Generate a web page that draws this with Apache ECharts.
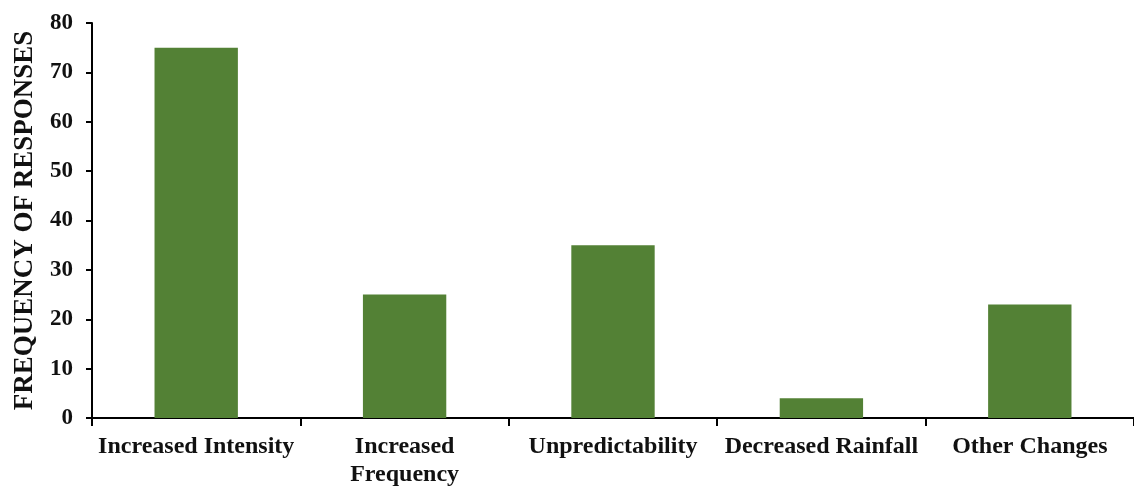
<!DOCTYPE html>
<html>
<head>
<meta charset="utf-8">
<script src="https://cdn.jsdelivr.net/npm/echarts@6/dist/echarts.min.js"></script>
<style>
  html, body { margin: 0; padding: 0; background: #fff; }
  #main { width: 1134px; height: 489px; }
</style>
</head>
<body>
<div id="main"></div>
<script>
// categories and values
var categories = ['Increased Intensity', 'Increased\nFrequency', 'Unpredictability', 'Decreased Rainfall', 'Other Changes'];
var responses = [75, 25, 35, 4, 23];

var yTitle = 'FREQUENCY OF RESPONSES';
var fontFam = '"Liberation Serif", "Times New Roman", serif';

var myChart = echarts.init(document.getElementById('main'));

myChart.setOption({
    animation: false,
    grid: { left: 92, right: 0, top: 23, bottom: 68 },
    xAxis: {
        type: 'category',
        data: categories,
        axisLine: { lineStyle: { color: '#000', width: 2 } },
        axisTick: { show: true, length: 8, lineStyle: { color: '#000', width: 2 } },
        axisLabel: {
            color: '#111', fontFamily: fontFam, fontWeight: 'bold', fontSize: 24,
            margin: 15, lineHeight: 28, interval: 0
        }
    },
    yAxis: {
        type: 'value',
        min: 0, max: 80, interval: 10,
        name: yTitle,
        nameLocation: 'middle',
        nameGap: 53,
        nameTextStyle: { color: '#111', fontFamily: fontFam, fontWeight: 'bold', fontSize: 27 },
        splitLine: { show: false },
        axisLine: { show: true, lineStyle: { color: '#000', width: 2 } },
        axisTick: { show: true, length: 6, inside: false, lineStyle: { color: '#000', width: 2 } },
        axisLabel: { color: '#111', fontFamily: fontFam, fontWeight: 'bold', fontSize: 23, margin: 19 }
    },
    series: [{
        type: 'bar',
        data: responses,
        barWidth: '40%',
        itemStyle: { color: '#538135' }
    }]
});
</script>
</body>
</html>
